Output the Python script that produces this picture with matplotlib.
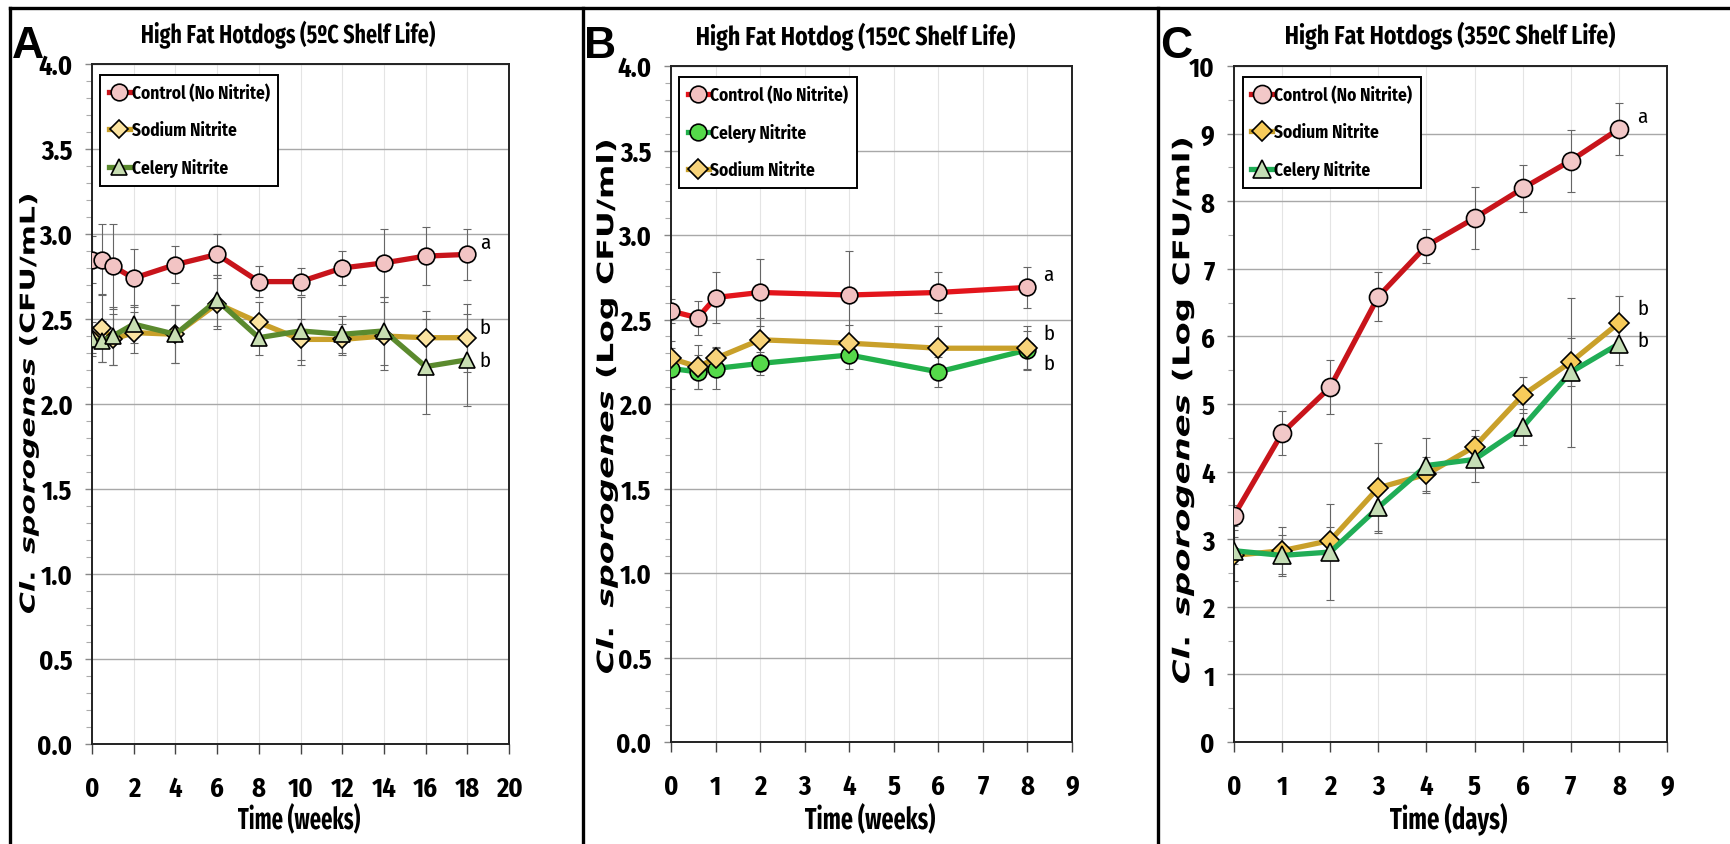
import numpy as np
import matplotlib
matplotlib.use("Agg")
import matplotlib.pyplot as plt
import matplotlib.transforms as mtransforms
from matplotlib import font_manager
from matplotlib.font_manager import FontProperties
from matplotlib.lines import Line2D
from matplotlib.patches import PathPatch
from matplotlib.path import Path
from matplotlib.textpath import TextPath
from matplotlib.ticker import MultipleLocator

# narrow bold face for the Excel-style text, whichever one is on the machine
names = {f.name for f in font_manager.fontManager.ttflist}
narrow = next((n for n in ['Fira Sans Condensed', 'Roboto Condensed', 'PT Sans Narrow',
                           'Archivo Narrow', 'Open Sans Condensed', 'Carlito']
               if n in names), 'Lato')
plt.rcParams['font.family'] = [narrow, 'DejaVu Sans']
plt.rcParams['mathtext.fontset'] = 'custom'
plt.rcParams['mathtext.it'] = 'DejaVu Sans:italic:bold'
plt.rcParams['mathtext.rm'] = 'DejaVu Sans:bold'

# ---- A: 5 C, weeks ----
weeks_a = [0, 0.5, 1, 2, 4, 6, 8, 10, 12, 14, 16, 18]
control_a = [2.85, 2.85, 2.81, 2.74, 2.82, 2.88, 2.72, 2.72, 2.80, 2.83, 2.87, 2.88]
control_a_err = [0.14, 0.21, 0.25, 0.17, 0.11, 0.12, 0.09, 0.08, 0.10, 0.20, 0.17, 0.15]
sodium_a = [2.38, 2.45, 2.38, 2.42, 2.41, 2.59, 2.48, 2.38, 2.38, 2.40, 2.39, 2.39]
sodium_a_err = [0.10, 0.20, 0.15, 0.12, 0.17, 0.15, 0.12, 0.12, 0.09, 0.20, 0.16, 0.20]
celery_a = [2.38, 2.37, 2.40, 2.47, 2.41, 2.61, 2.39, 2.43, 2.41, 2.43, 2.22, 2.26]
celery_a_err = [0.08, 0.12, 0.17, 0.11, 0.17, 0.15, 0.10, 0.20, 0.11, 0.20, 0.28, 0.27]

# ---- B: 15 C, weeks ----
weeks_b = [0, 0.6, 1, 2, 4, 6, 8]
control_b = [2.55, 2.51, 2.63, 2.66, 2.645, 2.66, 2.69]
control_b_err = [0.07, 0.10, 0.15, 0.20, 0.26, 0.12, 0.12]
celery_b = [2.21, 2.19, 2.21, 2.24, 2.29, 2.19, 2.32]
celery_b_err = [0.12, 0.10, 0.12, 0.07, 0.08, 0.09, 0.11]
sodium_b = [2.27, 2.22, 2.27, 2.38, 2.36, 2.33, 2.33]
sodium_b_err = [0.10, 0.13, 0.07, 0.13, 0.11, 0.13, 0.13]

# ---- C: 35 C, days ----
days_c = [0, 1, 2, 3, 4, 5, 6, 7, 8]
control_c = [3.35, 4.57, 5.25, 6.59, 7.34, 7.75, 8.19, 8.60, 9.07]
control_c_err = [0.15, 0.33, 0.40, 0.36, 0.25, 0.46, 0.35, 0.46, 0.39]
sodium_c = [2.76, 2.83, 2.98, 3.76, 3.96, 4.37, 5.13, 5.62, 6.20]
sodium_c_err = [0.38, 0.35, 0.20, 0.67, 0.25, 0.25, 0.27, 0.35, 0.40]
celery_c = [2.83, 2.76, 2.81, 3.47, 4.09, 4.18, 4.66, 5.47, 5.89]
celery_c_err = [0.20, 0.30, 0.71, 0.35, 0.41, 0.34, 0.26, 1.10, 0.32]

titles = ['High Fat Hotdogs (5ºC Shelf Life)', 'High Fat Hotdog (15ºC Shelf Life)',
          'High Fat Hotdogs (35ºC Shelf Life)']

W, H = 1730, 845
fig = plt.figure(figsize=(17.3, 8.45), dpi=100)
to_fig = mtransforms.Affine2D().scale(1 / W, 1 / H) + fig.transFigure


def px_axes(left, top, right, bottom):
    return fig.add_axes([left / W, 1 - bottom / H, (right - left) / W, (bottom - top) / H])


def glyph_xy(tp):
    keep = tp.codes != Path.CLOSEPOLY if tp.codes is not None else slice(None)
    return tp.vertices[keep, 0], tp.vertices[keep, 1]


def squeezed(text, left, right, baseline, cap):
    # text drawn as a path, fitted to a given width and capital height (pixels from top-left)
    fp = FontProperties(family=narrow, weight='bold', size=20)
    tp = TextPath((0, 0), text, prop=fp)
    _, hy = glyph_xy(TextPath((0, 0), 'H', prop=fp))
    xs, _ = glyph_xy(tp)
    tr = (mtransforms.Affine2D()
          .translate(-xs.min(), 0)
          .scale((right - left) / (xs.max() - xs.min()), cap / (hy.max() - hy.min()))
          .translate(left, H - baseline))
    fig.add_artist(PathPatch(tp, transform=tr + to_fig, facecolor='black', lw=0))


def vertical_label(cx, y_bottom, y_top, text):
    # rotated y label, stretched along its length like the Excel export
    tp = TextPath((0, 0), text, prop=FontProperties(family='DejaVu Sans', weight='bold', size=20))
    xs, ys = glyph_xy(tp)
    sx = (y_bottom - y_top) / (xs.max() - xs.min())
    tr = (mtransforms.Affine2D()
          .translate(-xs.min(), -(ys.min() + ys.max()) / 2)
          .scale(sx, sx * 0.68)
          .rotate_deg(90)
          .translate(cx, H - y_bottom))
    fig.add_artist(PathPatch(tp, transform=tr + to_fig, facecolor='black', lw=0))


def series(ax, x, y, err, color, marker, face, ms, label):
    ax.errorbar(x, y, yerr=err, fmt='none', ecolor='#666666', elinewidth=0.8,
                capsize=3, capthick=0.8, zorder=2)
    ax.plot(x, y, color=color, lw=3.8, marker=marker, ms=ms, mfc=face, mec='black',
            mew=1.2, label=label, zorder=3)


def style(ax, xmax, xstep, ymax, ystep, yminor, yfmt):
    ax.set_xlim(0, xmax)
    ax.set_ylim(0, ymax)
    ax.xaxis.set_major_locator(MultipleLocator(xstep))
    ax.yaxis.set_major_locator(MultipleLocator(ystep))
    ax.yaxis.set_minor_locator(MultipleLocator(yminor))
    ax.yaxis.set_major_formatter(yfmt)
    ax.grid(axis='y', which='major', color='#a8a8a8', lw=1.0, zorder=0)
    ax.grid(axis='x', which='major', color='#e4e4e4', lw=0.8, zorder=0)
    for s in ax.spines.values():
        s.set_linewidth(1.4)
        s.set_color('#222222')
    ax.tick_params(axis='x', direction='out', length=7, width=1, color='#444444',
                   pad=15, labelsize=19)
    ax.tick_params(axis='y', which='major', direction='out', length=5, width=1,
                   color='#888888', pad=9, labelsize=19)
    ax.tick_params(axis='y', which='minor', direction='out', length=4, width=0.8,
                   color='#aaaaaa')
    for lab in ax.get_xticklabels() + ax.get_yticklabels():
        lab.set_fontweight('bold')


def legend(ax):
    leg = ax.legend(loc='upper left', bbox_to_anchor=(0.02, 0.984), borderaxespad=0,
                    fancybox=False, edgecolor='black', framealpha=1, handlelength=1.2,
                    handletextpad=0.1, labelspacing=1.1, borderpad=0.5,
                    prop={'weight': 'bold', 'size': 12.5})
    leg.get_frame().set_linewidth(1.4)


def letters(ax, x, ys, texts):
    for y, t in zip(ys, texts):
        ax.text(x, y, t, fontsize=15, ha='left', va='center')


# panel A
ax_a = px_axes(92, 65, 509, 745)
series(ax_a, weeks_a, control_a, control_a_err, '#c8141b', 'o', '#f2c4c4', 12, 'Control (No Nitrite)')
series(ax_a, weeks_a, sodium_a, sodium_a_err, '#c9a02a', 'D', '#fbe3a0', 9, 'Sodium Nitrite')
series(ax_a, weeks_a, celery_a, celery_a_err, '#5b8a2e', '^', '#c8deb2', 12, 'Celery Nitrite')
style(ax_a, 20, 2, 4.0, 0.5, 0.1, '{x:.1f}')
legend(ax_a)
letters(ax_a, 18.6, [2.95, 2.45, 2.26], ['a', 'b', 'b'])
vertical_label(29, 614, 196, r'$\mathit{Cl.\ sporogenes}$ (CFU/mL)')
squeezed('Time (weeks)', 238, 360, 830, 21)
squeezed(titles[0], 142, 435, 44, 18)

# panel B
ax_b = px_axes(671, 67, 1072, 743)
series(ax_b, weeks_b, control_b, control_b_err, '#e3151c', 'o', '#f2c0c0', 12, 'Control (No Nitrite)')
series(ax_b, weeks_b, celery_b, celery_b_err, '#22b04a', 'o', '#55d94a', 12, 'Celery Nitrite')
series(ax_b, weeks_b, sodium_b, sodium_b_err, '#c9a02a', 'D', '#f7d37a', 10, 'Sodium Nitrite')
style(ax_b, 9, 1, 4.0, 0.5, 0.1, '{x:.1f}')
legend(ax_b)
letters(ax_b, 8.35, [2.77, 2.42, 2.24], ['a', 'b', 'b'])
vertical_label(607, 674, 142, r'$\mathit{Cl.\ sporogenes}$ (Log CFU/ml)')
squeezed('Time (weeks)', 805, 935, 830, 21)
squeezed(titles[1], 697, 1015, 46, 18)

# panel C
ax_c = px_axes(1234, 67, 1667, 743)
series(ax_c, days_c, control_c, control_c_err, '#c8141b', 'o', '#f2c8c8', 13, 'Control (No Nitrite)')
series(ax_c, days_c, sodium_c, sodium_c_err, '#c9a02a', 'D', '#f7cb5a', 10, 'Sodium Nitrite')
series(ax_c, days_c, celery_c, celery_c_err, '#20ad56', '^', '#c4ddb5', 13, 'Celery Nitrite')
style(ax_c, 9, 1, 10, 1, 0.5, '{x:.0f}')
legend(ax_c)
letters(ax_c, 8.38, [9.25, 6.42, 5.94], ['a', 'b', 'b'])
vertical_label(1183, 684, 140, r'$\mathit{Cl.\ sporogenes}$ (Log CFU/ml)')
squeezed('Time (days)', 1390, 1507, 830, 21)
squeezed(titles[2], 1286, 1615, 45, 18)

# panel letters
for t, x in zip(['A', 'B', 'C'], [12, 584, 1160]):
    fig.text(x / W, 1 - 58 / H, t, ha='left', va='baseline', fontsize=32,
             fontweight='bold', family='Liberation Sans')

# panel frame lines
frame = dict(color='black', lw=2.4, transform=fig.transFigure)
fig.add_artist(Line2D([10 / W, 1], [1 - 9 / H, 1 - 9 / H], **frame))
for x in [10, 583, 1158]:
    fig.add_artist(Line2D([x / W, x / W], [0, 1 - 9 / H], **frame))

fig.savefig('out.png', dpi=100)
